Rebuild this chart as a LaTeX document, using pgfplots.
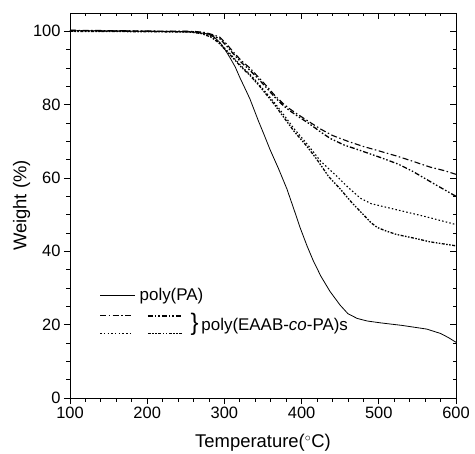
\documentclass[border=0pt]{standalone}
\usepackage{fontspec}
\setmainfont{Liberation Sans}
\usepackage{pgfplots}
\pgfplotsset{compat=1.18}

\pgfplotsset{
  tgastyle/.style={
    scale only axis,
    width=386bp, height=385bp,
    xmin=100, xmax=600, ymin=0, ymax=105,
    xtick={100,200,...,600}, ytick={0,20,...,100},
    minor x tick num=4, minor y tick num=3,
    major tick length=6bp, minor tick length=3.5bp,
    every tick/.style={black, line width=0.8pt},
    axis line style={line width=0.9pt},
    /pgf/number format/assume math mode=true,
    tick label style={font=\fontsize{16.5}{18}\selectfont},
  }
}

\begin{document}
\begin{tikzpicture}
% mirrored ticks on top and right, pointing inwards
\begin{axis}[tgastyle, axis x line*=top, axis y line*=right,
  tick align=inside, xticklabels={}, yticklabels={}]
\end{axis}

\begin{axis}[tgastyle, name=ax,
  axis x line*=bottom, axis y line*=left, tick align=outside,
  xlabel={Temperature($^\circ$C)},
  ylabel={Weight (\%)},
  label style={font=\fontsize{18.5}{20}\selectfont},
  xlabel style={yshift=-9bp},
  ylabel style={yshift=-4bp},
  xticklabel style={yshift=1bp},
  clip=false,
]

% poly(PA)
\addplot[black, line width=0.8pt] coordinates {
  (100,100.2) (200,100) (250,99.9) (265,99.7) (275,99.4) (281,99.1)
  (288,98.2) (294,97) (300,95.3) (307,92.9) (314,90.3) (320,87.4)
  (327,84.3) (333,81.6) (344,75.6) (352,71.5) (359,67.8) (370,62.6)
  (381,57) (390,51.5) (398,46.5) (407,41.5) (415,37.5) (425,33.2)
  (437,29) (450,25.3) (460,23) (472,21.7) (485,21) (502,20.5)
  (530,19.8) (562,18.8) (580,17.6) (590,16.5) (600,15.2)
};

% copolymer 1 (dash-dot)
\addplot[black, line width=1.1pt, dash pattern=on 6bp off 2.5bp on 1.5bp off 2.5bp] coordinates {
  (100,100.3) (200,100.1) (260,100) (275,99.7) (285,99.1) (294,98.4)
  (303,96.5) (311,94.5) (322,92) (333,90) (345,87.3) (355,85)
  (365,82.6) (376,80.3) (385,78.8) (394,77.5) (410,75.3) (425,73.3)
  (440,71.6) (460,70) (480,68.6) (500,67.4) (523,66) (545,64.5)
  (566,63) (585,62) (600,61)
};

% copolymer 2 (dash-dot-dot)
\addplot[black, line width=1.3pt, dash pattern=on 5bp off 2bp on 1.5bp off 2bp on 1.5bp off 2bp] coordinates {
  (100,100.2) (200,100) (260,99.9) (275,99.5) (285,98.8) (294,98)
  (303,96) (311,94) (322,91.5) (333,89.4) (345,86.8) (355,84.5)
  (365,82.1) (376,79.8) (385,78.3) (394,77) (410,74.8) (425,72.5)
  (437,70.8) (455,69) (472,67.8) (502,65.6) (525,63.8) (544,61.8)
  (557,60.2) (575,58) (590,56.2) (600,55)
};

% copolymer 3 (dotted)
\addplot[black, line width=1.1pt, dash pattern=on 1.5bp off 2.2bp] coordinates {
  (100,100.1) (200,100) (255,99.9) (270,99.5) (282,98.7) (292,97.3)
  (300,95.5) (310,93.3) (322,90.5) (333,88.3) (345,85.5) (355,83)
  (365,80.5) (376,77.5) (390,73.5) (407,69.3) (425,64.5) (446,60.4)
  (460,57.5) (476,54.5) (490,53) (520,51.5) (560,49.5) (600,47.3)
};

% copolymer 4 (short dash-dot-dot)
\addplot[black, line width=1.3pt, dash pattern=on 3bp off 1.5bp on 1.5bp off 1.5bp on 1.5bp off 1.5bp] coordinates {
  (100,100) (200,99.9) (255,99.8) (270,99.4) (282,98.5) (292,97)
  (300,95.2) (310,93) (322,90.2) (333,88) (345,85.2) (355,82.6)
  (365,80) (376,76.8) (390,72.8) (407,68.6) (420,65) (435,60.4)
  (450,57) (465,53.3) (480,50) (490,47.8) (498,46.5) (510,45.5)
  (523,44.6) (550,43.4) (566,42.6) (600,41.5)
};

% legend
\draw[black, line width=0.8pt] (axis cs:139,27.9) -- (axis cs:184,27.9);
\node[anchor=west, font=\fontsize{17}{19}\selectfont, inner sep=0pt] at (axis cs:190,27.9) {poly(PA)};
\draw[black, line width=1.1pt, dash pattern=on 6bp off 2.5bp on 1.5bp off 2.5bp] (axis cs:139,22.4) -- (axis cs:182,22.4);
\draw[black, line width=1.3pt, dash pattern=on 5bp off 2bp on 1.5bp off 2bp on 1.5bp off 2bp] (axis cs:201,22.4) -- (axis cs:246,22.4);
\draw[black, line width=1.1pt, dash pattern=on 1.5bp off 2.2bp] (axis cs:139,17.5) -- (axis cs:182,17.5);
\draw[black, line width=1.3pt, dash pattern=on 3bp off 1.5bp on 1.5bp off 1.5bp on 1.5bp off 1.5bp] (axis cs:201,17.5) -- (axis cs:246,17.5);
\node[anchor=west, font=\fontsize{24}{24}\selectfont, inner sep=0pt] at (axis cs:256,20) {\}};
\node[anchor=west, font=\fontsize{17}{19}\selectfont, inner sep=0pt] at (axis cs:270,19.6) {poly(EAAB-\textit{co}-PA)s};
\end{axis}

\pgfresetboundingbox
\path (ax.south west) ++(-70bp,-56bp) coordinate (bbsw);
\path (ax.north east) ++(19bp,13bp) coordinate (bbne);
\path[use as bounding box] (bbsw) rectangle (bbne);
\end{tikzpicture}
\end{document}
